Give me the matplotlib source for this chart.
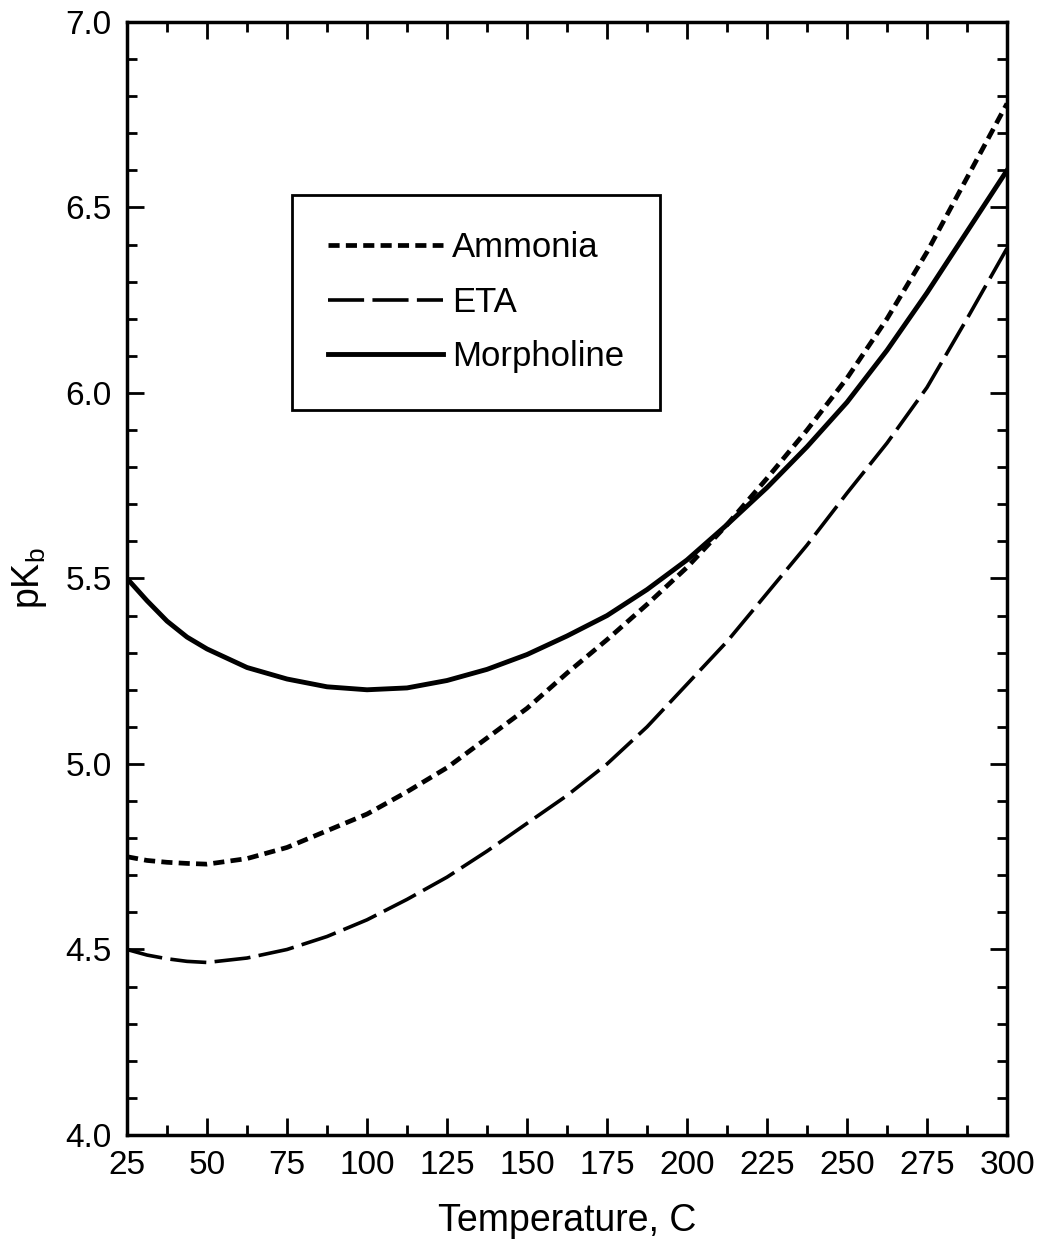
import numpy as np
import matplotlib
matplotlib.use("Agg")
import matplotlib.pyplot as plt
from matplotlib.ticker import MultipleLocator

# =============================================================================
# DATA
# =============================================================================

temperature = [25, 31.25, 37.5, 43.75, 50, 62.5, 75, 87.5, 100, 112.5, 125,
               137.5, 150, 162.5, 175, 187.5, 200, 212.5, 225, 237.5, 250,
               262.5, 275, 287.5, 300]

pkb_ammonia = [4.75, 4.74, 4.735, 4.732, 4.73, 4.745, 4.775, 4.82, 4.865,
               4.925, 4.99, 5.07, 5.15, 5.245, 5.335, 5.43, 5.53, 5.645, 5.77,
               5.90, 6.04, 6.20, 6.38, 6.58, 6.78]

pkb_eta = [4.50, 4.485, 4.475, 4.468, 4.465, 4.477, 4.50, 4.535, 4.58, 4.635,
           4.695, 4.765, 4.84, 4.915, 5.00, 5.10, 5.215, 5.33, 5.46, 5.59,
           5.73, 5.865, 6.015, 6.20, 6.39]

pkb_morpholine = [5.50, 5.44, 5.385, 5.342, 5.31, 5.26, 5.229, 5.208, 5.20,
                  5.205, 5.225, 5.255, 5.295, 5.345, 5.40, 5.47, 5.55, 5.645,
                  5.745, 5.855, 5.975, 6.115, 6.27, 6.435, 6.60]

labels = ["Ammonia", "ETA", "Morpholine"]

# =============================================================================
# PLOT
# =============================================================================

plt.rcParams["font.family"] = ["Liberation Sans", "DejaVu Sans"]
plt.rcParams["mathtext.fontset"] = "custom"
plt.rcParams["mathtext.rm"] = "Liberation Sans"
plt.rcParams["lines.scale_dashes"] = False

fig = plt.figure(figsize=(10.43, 12.54), dpi=100)
ax = fig.add_axes([0.1218, 0.0949, 0.8437, 0.8876])

ax.plot(temperature, pkb_ammonia, c="black", lw=3.4, dashes=(8, 4.5), label=labels[0])
ax.plot(temperature, pkb_eta, c="black", lw=2.6, dashes=(26, 6), label=labels[1])
ax.plot(temperature, pkb_morpholine, c="black", lw=3.5, ls="-", label=labels[2])

ax.set_xlim(25, 300)
ax.set_ylim(4.0, 7.0)
ax.xaxis.set_major_locator(MultipleLocator(25))
ax.xaxis.set_minor_locator(MultipleLocator(12.5))
ax.yaxis.set_major_locator(MultipleLocator(0.5))
ax.yaxis.set_minor_locator(MultipleLocator(0.1))
ax.yaxis.set_major_formatter(plt.FormatStrFormatter("%.1f"))

ax.tick_params(which="both", direction="in", top=True, right=True, width=2, labelsize=24, pad=11)
ax.tick_params(which="major", length=12)
ax.tick_params(which="minor", length=7)
for sp in ax.spines.values():
    sp.set_linewidth(2.5)

ax.set_xlabel("Temperature, C", fontsize=27, labelpad=16)
ax.set_ylabel(r"pK$_\mathrm{b}$", fontsize=27, labelpad=12)

leg = ax.legend(loc="upper left", bbox_to_anchor=(0.1875, 0.8446), fontsize=25,
                frameon=True, fancybox=False, edgecolor="black", framealpha=1,
                handlelength=3.3, handletextpad=0.25, labelspacing=0.62,
                borderpad=1.05, borderaxespad=0)
leg.get_frame().set_linewidth(2)

fig.savefig("out.png", dpi=100)
